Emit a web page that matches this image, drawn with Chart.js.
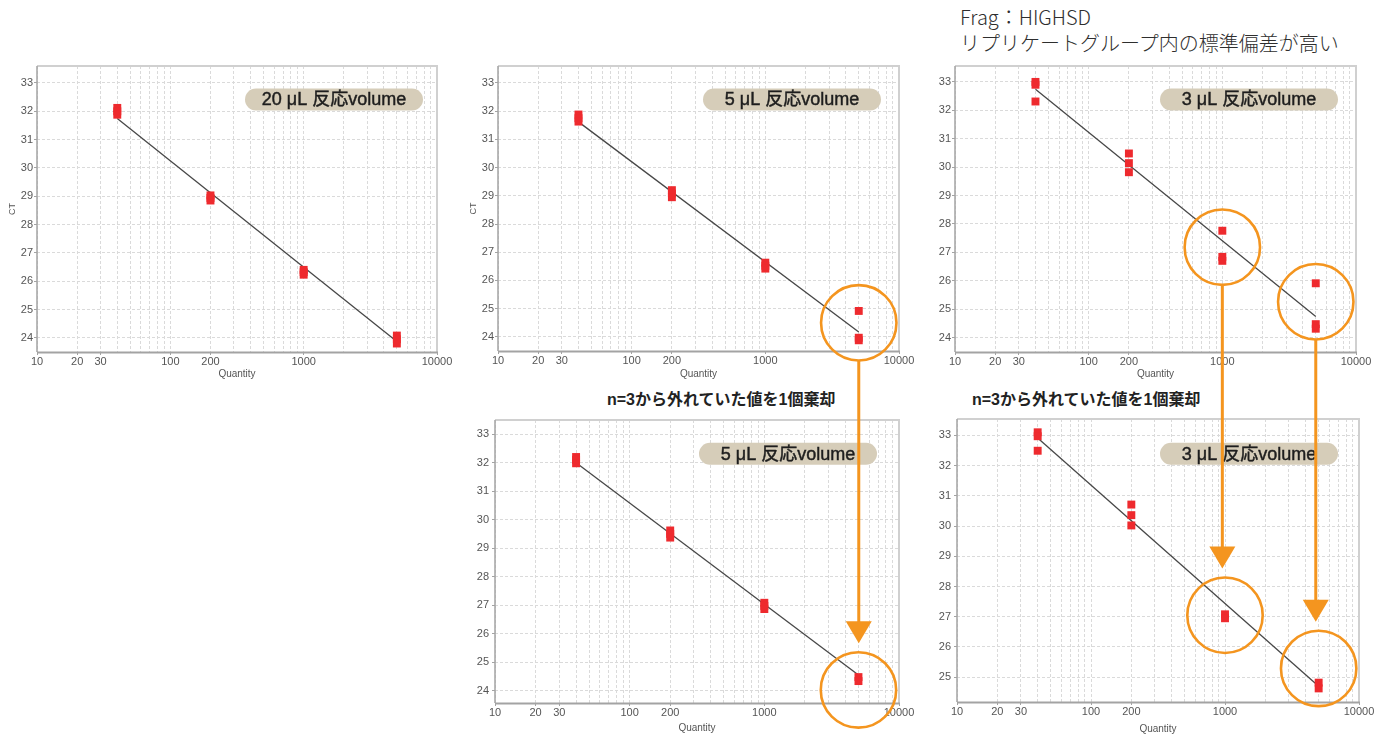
<!DOCTYPE html>
<html>
<head>
<meta charset="utf-8">
<script src="https://cdn.jsdelivr.net/npm/chart.js@4.4.1/dist/chart.umd.min.js"></script>
<style>
  html, body { margin: 0; padding: 0; background: #fff; }
  body { width: 1387px; height: 735px; position: relative; overflow: hidden; }
  canvas { position: absolute; }
  .note { position: absolute; white-space: nowrap; }
  #heading { left: 960px; top: 4px; font: 300 20px/26px "Noto Sans CJK JP", sans-serif; color: #2e2e2e; }
  .discard { top: 389px; font: bold 16px/22px "Liberation Sans", "Noto Sans CJK JP", sans-serif; color: #222; }
</style>
</head>
<body>
<div class="note" id="heading">Frag：HIGHSD<br>リプリケートグループ内の標準偏差が高い</div>
<div class="note discard" style="left:607px">n=3から外れていた値を1個棄却</div>
<div class="note discard" style="left:972px">n=3から外れていた値を1個棄却</div>

<script>
// ---- Standard-curve data: template quantity vs CT ----
const quantity = [40, 40, 40, 200, 200, 200, 1000, 1000, 1000, 5000, 5000, 5000];
const fitQuantity = [40, 5000];

// 20 µL reaction volume
const ct20 = [32.12, 32.00, 31.88, 29.03, 28.94, 28.85, 26.40, 26.32, 26.23, 24.08, 23.95, 23.80];
const fit20 = [31.75, 23.87];

// 5 µL reaction volume
const ct5 = [31.88, 31.75, 31.63, 29.20, 29.08, 28.95, 26.63, 26.52, 26.42, 24.92, 23.97, 23.88];
const fit5 = [31.62, 24.17];

// 3 µL reaction volume
const ct3 = [33.00, 32.90, 32.31, 30.48, 30.14, 29.82, 27.76, 26.84, 26.70, 25.91, 24.47, 24.31];
const fit3 = [32.74, 24.74];

// 5 µL after discarding one outlier
const quantity5b = [40, 40, 40, 200, 200, 200, 1000, 1000, 1000, 5000, 5000];
const ct5b = [32.20, 32.10, 31.98, 29.62, 29.50, 29.37, 27.08, 26.97, 26.86, 24.47, 24.33];
const fit5b = [32.00, 24.54];

// 3 µL after discarding one outlier per group
const quantity3b = [40, 40, 40, 200, 200, 200, 1000, 1000, 5000, 5000];
const ct3b = [33.10, 32.97, 32.49, 30.71, 30.36, 30.02, 27.08, 26.95, 24.82, 24.63];
const fit3b = [32.91, 24.70];

// Axis ticks
const xTickLabels = [10, 20, 30, 100, 200, 1000, 10000];
const xGridValues = [];
for (const decade of [10, 100, 1000]) for (let m = 1; m <= 9; m++) xGridValues.push(m * decade);
xGridValues.push(10000);

// Highlighted replicate groups [quantity, CT]
const ringsUpper5 = [[5000, 24.50]];
const ringsUpper3 = [[1000, 27.18], [5000, 25.26]];
const ringsLower5 = [[5000, 24.02]];
const ringsLower3 = [[1000, 27.05], [5000, 25.29]];

// ---- Styling ----
const RED = '#ee2a2e';
const ORANGE = '#f4951f';
const TICK_FONT = { family: '"Liberation Sans", Arial, sans-serif', size: 11 };

const framePlugin = {
  id: 'frame',
  beforeDatasetsDraw(chart) {
    const { ctx, chartArea: a } = chart;
    ctx.save();
    ctx.strokeStyle = '#d0d0d0';
    ctx.lineWidth = 2;
    ctx.beginPath();
    ctx.moveTo(a.left, a.top); ctx.lineTo(a.right, a.top); ctx.lineTo(a.right, a.bottom);
    ctx.stroke();
    ctx.strokeStyle = '#a3a3a3';
    ctx.lineWidth = 1.5;
    ctx.beginPath(); ctx.moveTo(a.left, a.top); ctx.lineTo(a.left, a.bottom); ctx.stroke();
    ctx.lineWidth = 2;
    ctx.beginPath(); ctx.moveTo(a.left, a.bottom + 0.5); ctx.lineTo(a.right + 1, a.bottom + 0.5); ctx.stroke();
    ctx.restore();
  }
};

const pillPlugin = {
  id: 'pill',
  afterDraw(chart, args, opts) {
    if (!opts.text) return;
    const { ctx, chartArea: a } = chart;
    const w = 178, h = 22;
    const x = a.right - opts.right - w, y = a.top + opts.top;
    ctx.save();
    ctx.fillStyle = '#d6cdb9';
    ctx.beginPath();
    ctx.roundRect(x, y, w, h, h / 2);
    ctx.fill();
    ctx.fillStyle = '#1e1e1e';
    ctx.strokeStyle = '#1e1e1e';
    ctx.lineWidth = 0.45;
    ctx.font = '18px "Liberation Sans", "Noto Sans CJK JP", sans-serif';
    ctx.textAlign = 'center';
    ctx.textBaseline = 'middle';
    ctx.fillText(opts.text, x + w / 2, y + h / 2 + 1);
    ctx.strokeText(opts.text, x + w / 2, y + h / 2 + 1);
    ctx.restore();
  }
};

function makePanel(cfg) {
  const cv = document.createElement('canvas');
  cv.width = cfg.box.w; cv.height = cfg.box.h;
  cv.style.left = cfg.box.x + 'px'; cv.style.top = cfg.box.y + 'px';
  document.body.appendChild(cv);

  const yW = cfg.area.l - cfg.box.x;
  const padTop = cfg.area.t - cfg.box.y;
  const padRight = cfg.box.x + cfg.box.w - cfg.area.r;
  const xH = cfg.box.y + cfg.box.h - cfg.area.b;

  const gridBase = { color: '#dadada', lineWidth: 1, tickLength: 3 };

  return new Chart(cv, {
    type: 'scatter',
    data: {
      datasets: [
        {
          type: 'line',
          data: fitQuantity.map((q, i) => ({ x: q, y: cfg.fit[i] })),
          borderColor: '#474747', borderWidth: 1.3, pointRadius: 0, fill: false, order: 2
        },
        {
          data: cfg.qty.map((q, i) => ({ x: q, y: cfg.ct[i] })),
          pointStyle: 'rect', pointRadius: 5.6, backgroundColor: RED, borderWidth: 0, order: 1
        }
      ]
    },
    options: {
      responsive: false, animation: false, events: [],
      layout: { padding: { top: padTop, right: padRight, left: 0, bottom: 0 } },
      plugins: { legend: { display: false }, tooltip: { enabled: false }, pill: { text: cfg.pill, right: cfg.pillRight, top: cfg.pillTop } },
      scales: {
        x: {
          type: 'logarithmic', min: 10, max: 10000, position: 'bottom',
          afterBuildTicks(s) { s.ticks = xGridValues.map(v => ({ value: v })); },
          afterFit(s) { s.height = xH; s.paddingLeft = 0; s.paddingRight = 0; },
          grid: { ...gridBase, tickColor: c => (c.tick && xTickLabels.includes(c.tick.value)) ? '#a3a3a3' : 'rgba(0,0,0,0)' },
          border: { display: false, dash: [3, 2] },
          ticks: {
            autoSkip: false, maxRotation: 0, padding: 0, color: '#555', font: TICK_FONT,
            callback: v => xTickLabels.includes(v) ? String(v) : ''
          },
          title: { display: true, text: 'Quantity', color: '#555', font: { family: TICK_FONT.family, size: 10 }, padding: { top: 0, bottom: cfg.qPad } }
        },
        y: {
          min: cfg.yMin, max: cfg.yMax,
          afterFit(s) { s.width = yW; s.paddingTop = 0; s.paddingBottom = 0; },
          grid: { ...gridBase, tickColor: '#a3a3a3' },
          border: { display: false, dash: [3, 2] },
          ticks: { stepSize: 1, includeBounds: false, padding: cfg.yTickPad, color: '#555', font: TICK_FONT },
          title: { display: !!cfg.showCT, text: 'CT', color: '#555', font: { family: TICK_FONT.family, size: 9 }, padding: { top: 7.5, bottom: 0 } }
        }
      }
    },
    plugins: [framePlugin, pillPlugin]
  });
}

const chart20 = makePanel({
  box: { x: 0, y: 56, w: 455, h: 330 }, area: { l: 37, r: 437, t: 66, b: 352 },
  qty: quantity, ct: ct20, fit: fit20, yMin: 23.5, yMax: 33.6,
  pill: '20 μL 反応volume', pillRight: 14, pillTop: 22.5, showCT: true, yTickPad: 1, qPad: 6
});
const chart5 = makePanel({
  box: { x: 461, y: 56, w: 455, h: 330 }, area: { l: 498, r: 899, t: 66, b: 351 },
  qty: quantity, ct: ct5, fit: fit5, yMin: 23.5, yMax: 33.6,
  pill: '5 μL 反応volume', pillRight: 18, pillTop: 22.5, showCT: true, yTickPad: 1, qPad: 6
});
const chart3 = makePanel({
  box: { x: 918, y: 56, w: 469, h: 330 }, area: { l: 955, r: 1356, t: 66, b: 352 },
  qty: quantity, ct: ct3, fit: fit3, yMin: 23.49, yMax: 33.56,
  pill: '3 μL 反応volume', pillRight: 18, pillTop: 22.5, showCT: false, yTickPad: 1, qPad: 6
});
const chart5b = makePanel({
  box: { x: 458, y: 410, w: 458, h: 325 }, area: { l: 495, r: 899, t: 420, b: 703 },
  qty: quantity5b, ct: ct5b, fit: fit5b, yMin: 23.56, yMax: 33.5,
  pill: '5 μL 反応volume', pillRight: 22, pillTop: 22.7, showCT: false, yTickPad: 3, qPad: 1
});
const chart3b = makePanel({
  box: { x: 920, y: 409, w: 467, h: 326 }, area: { l: 957, r: 1359, t: 419, b: 702 },
  qty: quantity3b, ct: ct3b, fit: fit3b, yMin: 24.18, yMax: 33.54,
  pill: '3 μL 反応volume', pillRight: 21, pillTop: 23.7, showCT: false, yTickPad: 3, qPad: 0
});

// ---- Outlier rings and arrows linking the before / after panels ----
const overlay = document.createElement('canvas');
overlay.width = 1387; overlay.height = 735;
overlay.style.left = '0px'; overlay.style.top = '0px';
document.body.appendChild(overlay);
const octx = overlay.getContext('2d');

function pagePoint(chart, q, ct) {
  return {
    x: chart.canvas.offsetLeft + chart.scales.x.getPixelForValue(q),
    y: chart.canvas.offsetTop + chart.scales.y.getPixelForValue(ct)
  };
}
const R = 37.7;
function ring(p) {
  octx.beginPath();
  octx.arc(p.x, p.y, R, 0, Math.PI * 2);
  octx.stroke();
}
function arrow(from, to) {
  const tipY = to.y - R - 9, headH = 22, headW = 13;
  octx.beginPath();
  octx.moveTo(from.x, from.y + R);
  octx.lineTo(from.x, tipY - headH + 1);
  octx.stroke();
  octx.beginPath();
  octx.moveTo(from.x - headW, tipY - headH);
  octx.lineTo(from.x + headW, tipY - headH);
  octx.lineTo(from.x, tipY);
  octx.closePath();
  octx.fill();
}

octx.strokeStyle = ORANGE;
octx.fillStyle = ORANGE;
const pairs = [
  [chart5, ringsUpper5, chart5b, ringsLower5],
  [chart3, ringsUpper3, chart3b, ringsLower3]
];
for (const [upChart, upRings, lowChart, lowRings] of pairs) {
  upRings.forEach((r, i) => {
    const a = pagePoint(upChart, r[0], r[1]);
    const b = pagePoint(lowChart, lowRings[i][0], lowRings[i][1]);
    octx.lineWidth = 2.6;
    ring(a);
    ring(b);
    octx.lineWidth = 3;
    arrow(a, b);
  });
}
</script>
</body>
</html>
